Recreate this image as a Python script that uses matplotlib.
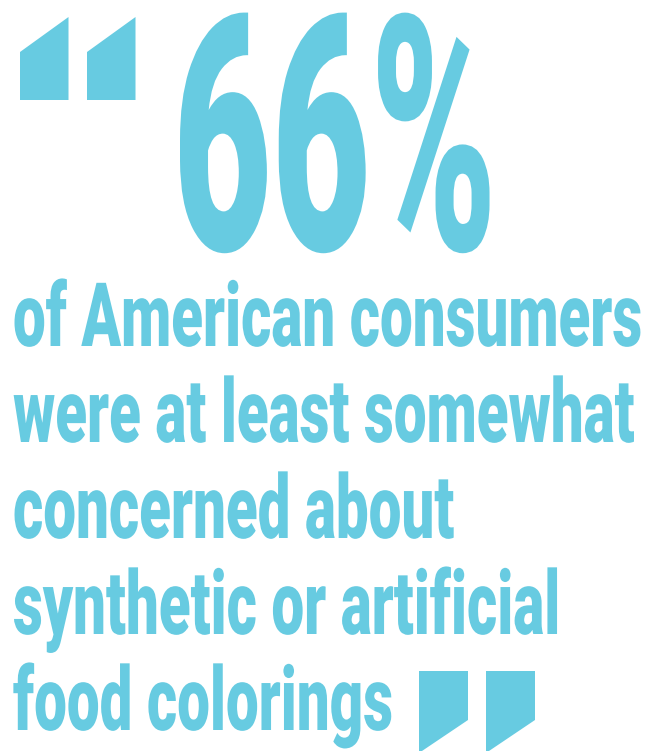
import matplotlib
matplotlib.use("Agg")
import matplotlib.pyplot as plt
from matplotlib.patheffects import AbstractPathEffect
from matplotlib.transforms import Affine2D
from matplotlib.patches import Polygon

# ---- data ----
headline_value = 66
headline_text = f"{headline_value}%"
body_lines = [
    "of American consumers",
    "were at least somewhat",
    "concerned about",
    "synthetic or artificial",
    "food colorings",
]
color = "#67CBE1"

W, H = 647, 751
fig = plt.figure(figsize=(W / 100, H / 100), dpi=100)
fig.patch.set_facecolor("white")


class Stretch(AbstractPathEffect):
    """Scales glyph outlines vertically around the baseline (tall, condensed look)."""
    def __init__(self, sy=1.0):
        super().__init__()
        self.sy = sy

    def draw_path(self, renderer, gc, tpath, affine, rgbFace=None):
        renderer.draw_path(gc, tpath, Affine2D().scale(1.0, self.sy) + affine, rgbFace)


def px(x, y):
    """pixel (from top-left) -> figure fraction"""
    return x / W, 1 - y / H


renderer = fig.canvas.get_renderer()
font = dict(family="Roboto", weight=900, color=color)


def fit(t, base_size, width):
    w = t.get_window_extent(renderer).width
    k = width / w
    t.set_fontsize(base_size * k)
    t.set_path_effects([Stretch(1.0 / k)])
    return k


# headline
hx, hy = px(173, 250)
head = fig.text(hx, hy, headline_text, fontsize=237, ha="left", va="baseline", **font)
fit(head, 237, 497 - 173)

# body lines
baselines = [346, 442, 538, 634, 730]
texts = []
for line, b in zip(body_lines, baselines):
    x, y = px(13, b)
    texts.append(fig.text(x, y, line, fontsize=64, ha="left", va="baseline", **font))
w0 = texts[0].get_window_extent(renderer).width
k = (642 - 13) / w0
for t in texts:
    t.set_fontsize(64 * k)
    t.set_path_effects([Stretch(1.0 / k)])

# decorative quote marks
def quote(pts):
    fig.patches.append(Polygon([px(*p) for p in pts], closed=True, transform=fig.transFigure,
                               facecolor=color, edgecolor="none"))

for x0 in (20, 87):
    quote([(x0, 52), (x0 + 48.5, 17), (x0 + 48.5, 100), (x0, 100)])
for x0 in (419, 486):
    quote([(x0, 671), (x0 + 49, 671), (x0 + 49, 720), (x0, 753)])

fig.savefig("out.png", dpi=100, facecolor="white")
